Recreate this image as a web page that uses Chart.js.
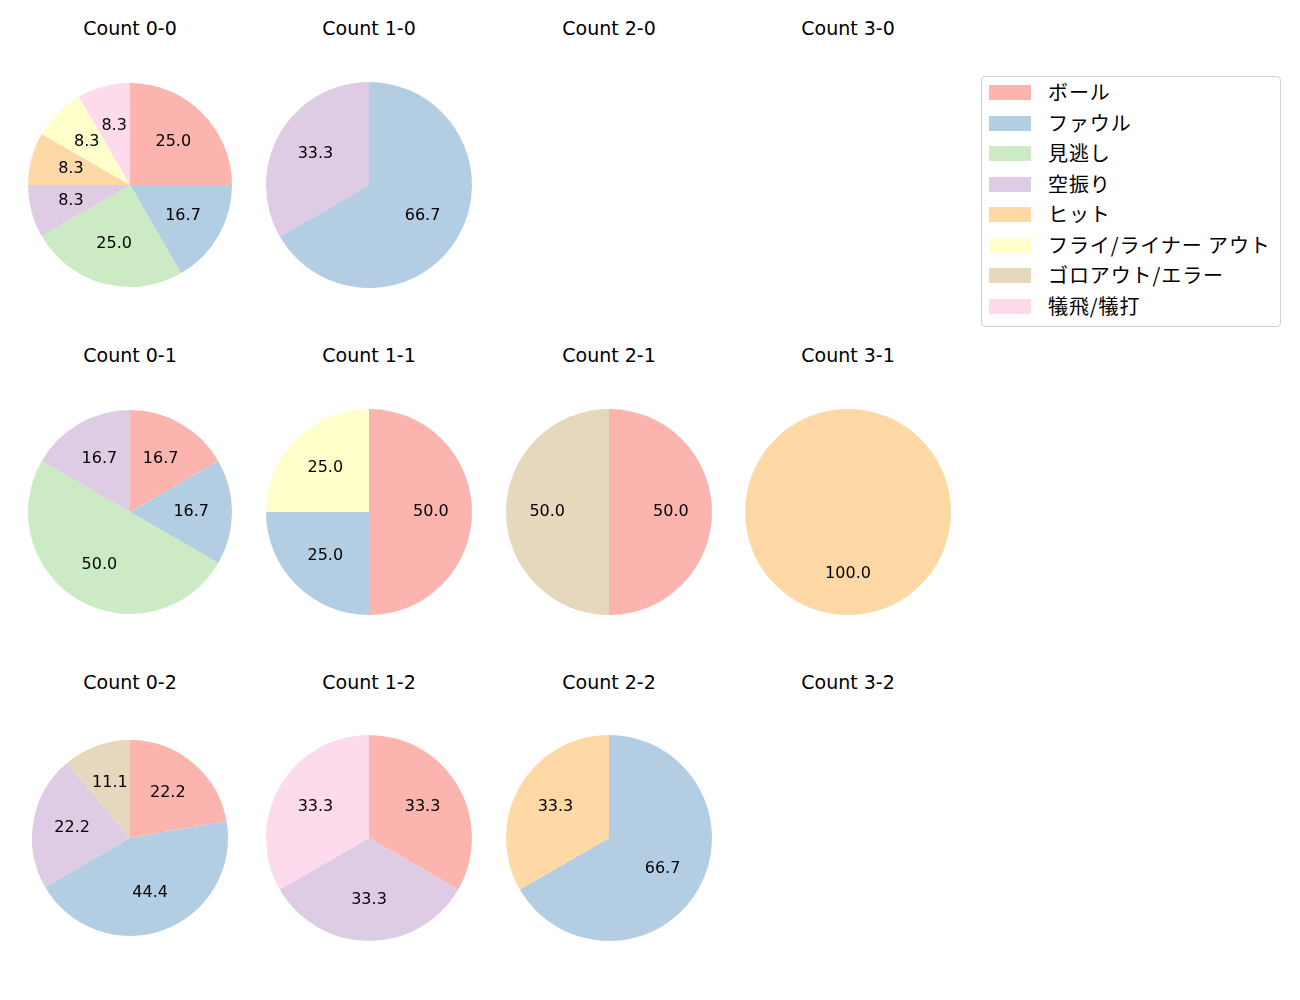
<!DOCTYPE html>
<html>
<head>
<meta charset="utf-8">
<script src="https://cdn.jsdelivr.net/npm/chart.js@4/dist/chart.umd.min.js"></script>
<style>
  body { margin: 0; background: #fff; width: 1300px; height: 1000px; position: relative; overflow: hidden;
         font-family: "DejaVu Sans", "Noto Sans CJK JP", sans-serif; }
  .title { position: absolute; width: 200px; text-align: center; font-size: 19px; color: #000; line-height: 20px; }
  canvas { position: absolute; }
  #legend { position: absolute; left: 981px; top: 76px; width: 298px; height: 249px;
            border: 1px solid #d0d0d0; border-radius: 4px; }
  .item { position: absolute; left: 7px; height: 20px; }
  .swatch { position: absolute; left: 0; top: 3px; width: 42px; height: 15px; }
  .label { position: absolute; left: 59px; top: 0; font-size: 20px; line-height: 20px; white-space: nowrap; color: #000;
           letter-spacing: 0.9px; font-family: "Noto Sans CJK JP", sans-serif; }
</style>
</head>
<body>
<div id="legend"></div>
<script>
const labels = ['ボール', 'ファウル', '見逃し', '空振り', 'ヒット', 'フライ/ライナー アウト', 'ゴロアウト/エラー', '犠飛/犠打'];
const colors = ['#fbb4ae', '#b3cde3', '#ccebc5', '#decbe4', '#fed9a6', '#ffffcc', '#e5d8bd', '#fddaec'];

// counts per ball-strike count, same order as labels
const count00 = [3, 2, 3, 1, 1, 1, 0, 1];
const count10 = [0, 2, 0, 1, 0, 0, 0, 0];
const count20 = [];
const count30 = [];
const count01 = [1, 1, 3, 1, 0, 0, 0, 0];
const count11 = [2, 1, 0, 0, 0, 1, 0, 0];
const count21 = [1, 0, 0, 0, 0, 0, 1, 0];
const count31 = [0, 0, 0, 0, 1, 0, 0, 0];
const count02 = [2, 4, 0, 2, 0, 0, 1, 0];
const count12 = [1, 0, 0, 1, 0, 0, 0, 1];
const count22 = [0, 2, 0, 0, 1, 0, 0, 0];
const count32 = [];

const panels = [
  { title: 'Count 0-0', data: count00, col: 0, row: 0, r: 102 },
  { title: 'Count 1-0', data: count10, col: 1, row: 0, r: 103 },
  { title: 'Count 2-0', data: count20, col: 2, row: 0, r: 103 },
  { title: 'Count 3-0', data: count30, col: 3, row: 0, r: 103 },
  { title: 'Count 0-1', data: count01, col: 0, row: 1, r: 102 },
  { title: 'Count 1-1', data: count11, col: 1, row: 1, r: 103 },
  { title: 'Count 2-1', data: count21, col: 2, row: 1, r: 103 },
  { title: 'Count 3-1', data: count31, col: 3, row: 1, r: 103 },
  { title: 'Count 0-2', data: count02, col: 0, row: 2, r: 98 },
  { title: 'Count 1-2', data: count12, col: 1, row: 2, r: 103 },
  { title: 'Count 2-2', data: count22, col: 2, row: 2, r: 103 },
  { title: 'Count 3-2', data: count32, col: 3, row: 2, r: 103 },
];

const colX = [130, 369, 609, 848];
const rowY = [185, 512, 838];
const titleY = [28, 355, 682];
const size = 240;

// percentage text at 0.6 of the radius, like matplotlib autopct
const pctLabels = {
  id: 'pctLabels',
  afterDatasetsDraw(chart) {
    const ctx = chart.ctx;
    const ds = chart.data.datasets[0];
    const total = ds.data.reduce((a, b) => a + b, 0);
    chart.getDatasetMeta(0).data.forEach((arc, i) => {
      const v = ds.data[i];
      if (!v) return;
      const { x, y, startAngle, endAngle, outerRadius } = arc.getProps(['x', 'y', 'startAngle', 'endAngle', 'outerRadius'], true);
      const mid = (startAngle + endAngle) / 2;
      const tx = x + Math.cos(mid) * outerRadius * 0.6;
      const ty = y + Math.sin(mid) * outerRadius * 0.6;
      ctx.save();
      ctx.fillStyle = '#000';
      ctx.font = '16px "DejaVu Sans", sans-serif';
      ctx.textAlign = 'center';
      ctx.textBaseline = 'middle';
      ctx.fillText((v / total * 100).toFixed(1), tx, ty);
      ctx.restore();
    });
  }
};

panels.forEach(p => {
  const t = document.createElement('div');
  t.className = 'title';
  t.textContent = p.title;
  t.style.left = (colX[p.col] - 100) + 'px';
  t.style.top = (titleY[p.row] - 10) + 'px';
  document.body.appendChild(t);

  if (!p.data.length) return;
  const canvas = document.createElement('canvas');
  canvas.width = size;
  canvas.height = size;
  canvas.style.left = (colX[p.col] - size / 2) + 'px';
  canvas.style.top = (rowY[p.row] - size / 2) + 'px';
  document.body.appendChild(canvas);

  new Chart(canvas.getContext('2d'), {
    type: 'pie',
    data: {
      labels: labels,
      datasets: [{ data: p.data, backgroundColor: colors, borderWidth: 0 }]
    },
    options: {
      responsive: false,
      animation: false,
      devicePixelRatio: 1,
      radius: p.r,
      layout: { padding: 0 },
      plugins: { legend: { display: false }, tooltip: { enabled: false } }
    },
    plugins: [pctLabels]
  });
});

const legend = document.getElementById('legend');
labels.forEach((name, i) => {
  const item = document.createElement('div');
  item.className = 'item';
  item.style.top = (5 + i * 30.57) + 'px';
  item.innerHTML = '<div class="swatch" style="background:' + colors[i] + '"></div><div class="label">' + name + '</div>';
  legend.appendChild(item);
});
</script>
</body>
</html>
